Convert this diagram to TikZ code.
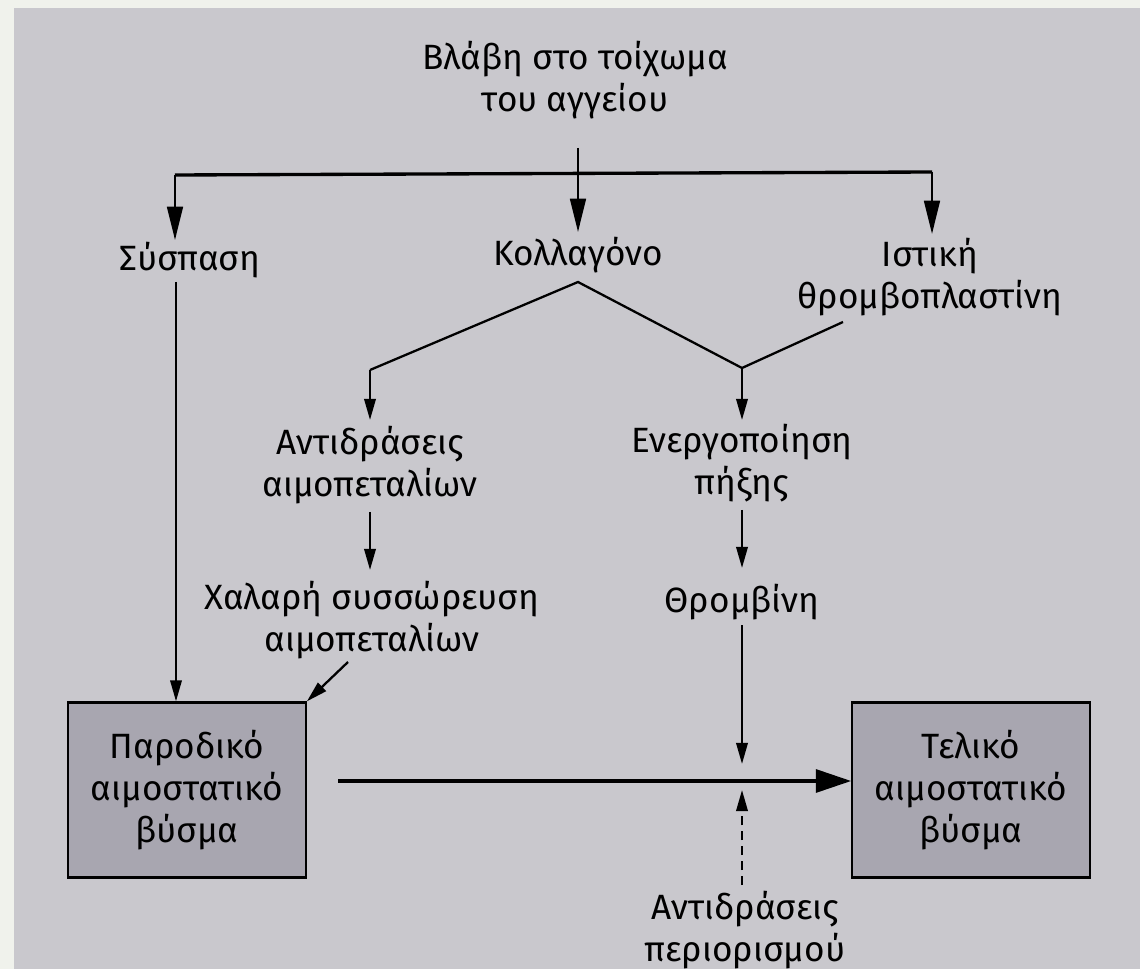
\documentclass[tikz,border=0pt]{standalone}
\usepackage{fontspec}
\setmainfont{Fira Sans}
\usetikzlibrary{arrows.meta}
\definecolor{bg}{RGB}{201,200,205}
\definecolor{boxfill}{RGB}{168,166,176}
\definecolor{margincol}{RGB}{240,242,236}
\begin{document}
\begin{tikzpicture}[x=0.02cm,y=-0.02cm,
  txt/.style={font=\fontsize{20}{24}\selectfont, align=center, inner sep=0pt},
  ln/.style={line width=1.3pt, black},
  arr/.style={ln, -{Triangle[length=19pt,width=9pt]}},
  sarr/.style={ln, -{Triangle[length=12pt,width=6.5pt]}},
  plug/.style={txt, draw=black, line width=1.3pt, fill=boxfill, minimum width=4.75cm, minimum height=3.5cm}]
\fill[margincol] (0,0) rectangle (1140,969);
\fill[bg] (14,8) rectangle (1140,969);
\useasboundingbox (0,0) rectangle (1140,969);
% nodes
\node[txt] (inj) at (575,80) {Βλάβη στο τοίχωμα\\του αγγείου};
\node[txt] (sys) at (190,260) {Σύσπαση};
\node[txt] (kol) at (578,255) {Κολλαγόνο};
\node[txt] (ist) at (930,277) {Ιστική\\θρομβοπλαστίνη};
\node[txt] (ant) at (370,465) {Αντιδράσεις\\αιμοπεταλίων};
\node[txt] (ene) at (742,463) {Ενεργοποίηση\\πήξης};
\node[txt] (xal) at (372,620) {Χαλαρή συσσώρευση\\αιμοπεταλίων};
\node[txt] (thr) at (742,602) {Θρομβίνη};
\node[plug] (par) at (187,790) {Παροδικό\\αιμοστατικό\\βύσμα};
\node[plug] (tel) at (971,790) {Τελικό\\αιμοστατικό\\βύσμα};
\node[txt] (per) at (745,930) {Αντιδράσεις\\περιορισμού};
% coordinates
\coordinate (t0) at (578,148);
\coordinate (bl) at (175,175);
\coordinate (bm) at (578,173);
\coordinate (br) at (932,172);
\coordinate (sysT) at (175,240);
\coordinate (kolT) at (578,232);
\coordinate (istT) at (932,234);
\coordinate (apex) at (578,282);
\coordinate (vl) at (370,370);
\coordinate (vr) at (742,368);
\coordinate (ist1) at (843,322);
\coordinate (antT) at (370,420);
\coordinate (eneT) at (742,420);
\coordinate (ant1) at (370,512);
\coordinate (xalT) at (370,570);
\coordinate (ene1) at (742,510);
\coordinate (thrT) at (742,568);
\coordinate (xal1) at (348,662);
\coordinate (sys1) at (176,282);
\coordinate (thr1) at (742,625);
\coordinate (junc) at (742,764);
\coordinate (par1) at (338,781);
\coordinate (per1) at (742,885);
\coordinate (juncB) at (742,790);
% connectors
\draw[ln] (t0) -- (bm);
\draw[arr] (bm) -- (kolT);
\draw[line width=1.9pt] (bl) -- (br);
\draw[arr] (bl) -- (sysT);
\draw[arr] (br) -- (istT);
\draw[ln] (vl) -- (apex) -- (vr);
\draw[ln] (ist1) -- (vr);
\draw[sarr] (vl) -- (antT);
\draw[sarr] (vr) -- (eneT);
\draw[sarr] (ant1) -- (xalT);
\draw[sarr] (ene1) -- (thrT);
\draw[sarr] (xal1) -- (par.north east);
\draw[sarr] (sys1) -- (sys1 |- par.north);
\draw[sarr] (thr1) -- (junc);
\draw[line width=1.9pt, -{Triangle[length=20pt,width=13pt]}] (par1) -- (par1 -| tel.west);
\draw[sarr, dash pattern=on 5pt off 3.5pt] (per1) -- (juncB);
\end{tikzpicture}
\end{document}
